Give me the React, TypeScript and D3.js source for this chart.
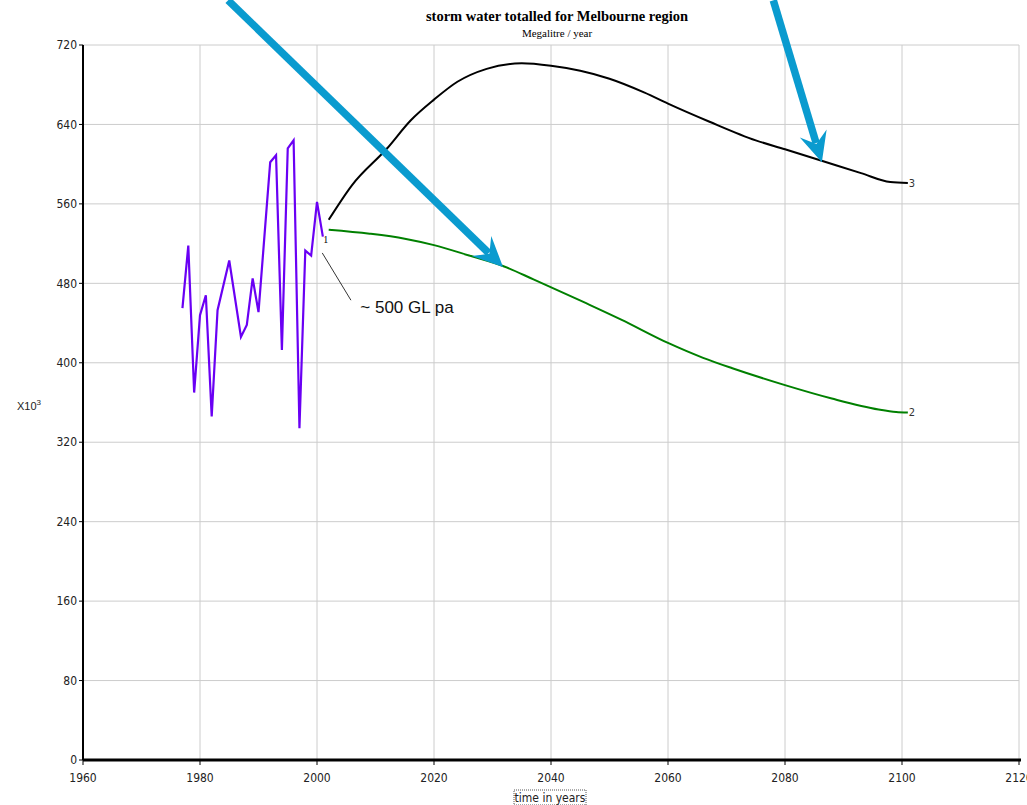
import * as d3 from 'd3';
import React from 'react';

// series 1 : historic (purple)
const histYears = [1977, 1978, 1979, 1980, 1981, 1982, 1983, 1985, 1987, 1988, 1989, 1990, 1992, 1993, 1994, 1995, 1996, 1997, 1998, 1999, 2000, 2001];
const histValues = [455, 518, 370, 448, 468, 346, 453, 503, 426, 438, 485, 451, 602, 609, 413, 616, 624, 334, 513, 508, 562, 527];

// series 2 : green projection
const greenYears = [2002, 2009, 2015, 2020, 2026, 2032, 2037, 2046, 2052, 2060, 2066, 2071, 2080, 2088, 2096, 2099, 2101];
const greenValues = [534, 530, 525, 518.5, 508, 497, 484, 460, 443.5, 420, 405, 394.5, 377.5, 364, 353, 350.5, 350];

// series 3 : black projection
const blackYears = [2002, 2006, 2012, 2016, 2020, 2024, 2029, 2035, 2040, 2045, 2050, 2056, 2060, 2067, 2075, 2080, 2086, 2093, 2098, 2101];
const blackValues = [544, 579, 616, 644, 665, 683, 696, 701.5, 699, 694, 686, 672, 661, 643, 624, 615, 604, 591, 582, 581];

const xTicks = [1960, 1980, 2000, 2020, 2040, 2060, 2080, 2100, 2120];
const yTicks = [0, 80, 160, 240, 320, 400, 480, 560, 640, 720];

const W = 1027, H = 805;
const left = 83, right = 1019, top = 45, bottom = 760;

const x = d3.scaleLinear().domain([1960, 2120]).range([left, right]);
const y = d3.scaleLinear().domain([0, 720]).range([bottom, top]);

const zip = (xs: number[], vs: number[]) => xs.map((d, i) => [d, vs[i]] as [number, number]);

const sharpLine = d3.line<[number, number]>().x((d) => x(d[0])).y((d) => y(d[1]));
const smoothLine = d3
  .line<[number, number]>()
  .x((d) => x(d[0]))
  .y((d) => y(d[1]))
  .curve(d3.curveMonotoneX);

// blue arrows, in data units (start off the top of the plot, tip on a line)
const arrows = [
  { from: [1984.8, 765], to: [2031.8, 496.5] },
  { from: [2078, 765], to: [2086.3, 602] },
];

const arrowHead = (x1: number, y1: number, x2: number, y2: number) => {
  const len = Math.hypot(x2 - x1, y2 - y1);
  const ux = (x2 - x1) / len, uy = (y2 - y1) / len;
  const px = -uy, py = ux;
  const L = 30, Wd = 14, N = 19;
  const b1 = [x2 - ux * L + px * Wd, y2 - uy * L + py * Wd];
  const b2 = [x2 - ux * L - px * Wd, y2 - uy * L - py * Wd];
  const n = [x2 - ux * N, y2 - uy * N];
  return `M${x2},${y2}L${b1[0]},${b1[1]}L${n[0]},${n[1]}L${b2[0]},${b2[1]}Z`;
};

const tickFont = '"Liberation Sans Narrow", "DejaVu Sans Condensed", Arial, sans-serif';

export default function App() {
  return (
    <div style={{ position: 'absolute', left: 0, top: 0 }}>
      <svg width={W} height={H} style={{ display: 'block', background: '#fff' }}>
        {/* grid */}
        {xTicks.slice(1).map((t) => (
          <line key={'gx' + t} x1={x(t)} x2={x(t)} y1={top} y2={bottom} stroke="#cccccc" strokeWidth={1} />
        ))}
        {yTicks.slice(1).map((t) => (
          <line key={'gy' + t} x1={left} x2={right} y1={y(t)} y2={y(t)} stroke="#cccccc" strokeWidth={1} />
        ))}

        {/* axes */}
        <line x1={left} x2={left} y1={top} y2={bottom} stroke="#000" strokeWidth={2} />
        <line x1={left} x2={right + 2} y1={bottom} y2={bottom} stroke="#000" strokeWidth={3} />
        {yTicks.map((t) => (
          <g key={'yt' + t}>
            <line x1={left - 4} x2={left} y1={y(t)} y2={y(t)} stroke="#000" />
            <text x={left - 6} y={y(t)} dy="0.35em" textAnchor="end" fontSize={12} fontFamily={tickFont} fill="#222">
              {t}
            </text>
          </g>
        ))}
        {xTicks.map((t) => (
          <g key={'xt' + t}>
            <line x1={x(t)} x2={x(t)} y1={bottom} y2={bottom + 5} stroke="#000" />
            <text x={x(t)} y={bottom + 22} textAnchor="middle" fontSize={12} fontFamily={tickFont} fill="#222">
              {t}
            </text>
          </g>
        ))}

        {/* titles */}
        <text x={557} y={21} textAnchor="middle" fontSize={14.5} fontWeight="bold" fontFamily='"Liberation Serif", "Times New Roman", serif'>
          storm water totalled for Melbourne region
        </text>
        <text x={557} y={37} textAnchor="middle" fontSize={11} fontFamily='"Liberation Serif", "Times New Roman", serif'>
          Megalitre / year
        </text>
        <text x={17} y={410} fontSize={11} fontFamily="Arial, sans-serif" fill="#222">
          X10<tspan dy={-5} fontSize={8}>3</tspan>
        </text>
        <rect x={514} y={790} width={72} height={15} fill="none" stroke="#555" strokeDasharray="1,1" />
        <text x={550} y={802} textAnchor="middle" fontSize={12} fontFamily={tickFont} fill="#222">
          time in years
        </text>

        {/* series */}
        <path d={sharpLine(zip(histYears, histValues)) ?? ''} fill="none" stroke="#6a00f4" strokeWidth={2.2} />
        <path d={smoothLine(zip(greenYears, greenValues)) ?? ''} fill="none" stroke="#008000" strokeWidth={2} />
        <path d={smoothLine(zip(blackYears, blackValues)) ?? ''} fill="none" stroke="#000" strokeWidth={2} />

        {/* series numbers */}
        <text x={x(2001.4) - 2} y={y(527) + 6} fontSize={10} fontFamily='"Liberation Serif", serif'>1</text>
        <text x={x(2101) + 1} y={y(350) + 4} fontSize={11} fontFamily={tickFont} fill="#333">2</text>
        <text x={x(2101) + 1} y={y(581) + 4} fontSize={11} fontFamily={tickFont} fill="#333">3</text>

        {/* annotation */}
        <line x1={x(2000.9)} y1={y(510.6)} x2={x(2005.8)} y2={y(463)} stroke="#000" strokeWidth={0.8} />
        <text x={x(2007.4)} y={y(451) + 1} fontSize={17} fontFamily='"Liberation Sans", Arial, sans-serif' fill="#111">
          ~ 500 GL pa
        </text>

        {arrows.map((a, i) => {
          const x1 = x(a.from[0]), y1 = y(a.from[1]);
          const x2 = x(a.to[0]), y2 = y(a.to[1]);
          const len = Math.hypot(x2 - x1, y2 - y1);
          const ex = x2 - ((x2 - x1) / len) * 20, ey = y2 - ((y2 - y1) / len) * 20;
          return (
            <g key={'ar' + i}>
              <line x1={x1} y1={y1} x2={ex} y2={ey} stroke="#0a9bcf" strokeWidth={7.5} />
              <path d={arrowHead(x1, y1, x2, y2)} fill="#0a9bcf" />
            </g>
          );
        })}
      </svg>
    </div>
  );
}
